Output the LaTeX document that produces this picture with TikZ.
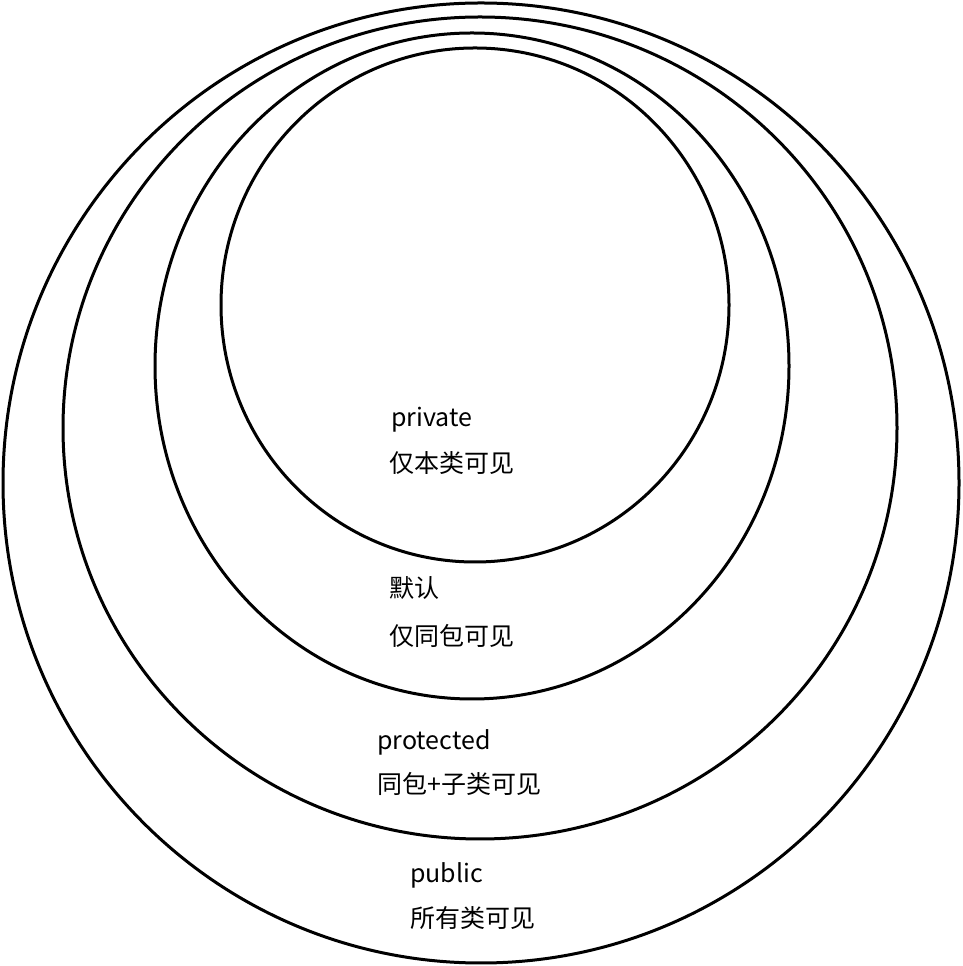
\documentclass[tikz,border=0pt]{standalone}
\usepackage{fontspec}
\setmainfont{Noto Sans CJK SC}
\begin{document}
\begin{tikzpicture}[x=1pt,y=1pt,ring/.style={draw=black,line width=3pt},
lbl/.style={anchor=west,inner sep=0pt,font=\fontsize{25}{30}\selectfont}]
\useasboundingbox[fill=white] (0,0) rectangle (963,966);
\draw[ring] (481,483) ellipse [x radius=478,y radius=480];
\draw[ring] (480,538) ellipse [x radius=417,y radius=411];
\draw[ring] (472,600) ellipse [x radius=317,y radius=333];
\draw[ring] (475,661) ellipse [x radius=254,y radius=257];
\node[lbl] (a1) at (391,546) {private};
\node[lbl] (a2) at (389,503) {仅本类可见};
\node[lbl] (b1) at (389,378) {默认};
\node[lbl] (b2) at (389,330) {仅同包可见};
\node[lbl] (c1) at (377,224) {protected};
\node[lbl] (c2) at (377,182) {同包+子类可见};
\node[lbl] (d1) at (410,91) {public};
\node[lbl] (d2) at (410,48) {所有类可见};
\end{tikzpicture}
\end{document}
